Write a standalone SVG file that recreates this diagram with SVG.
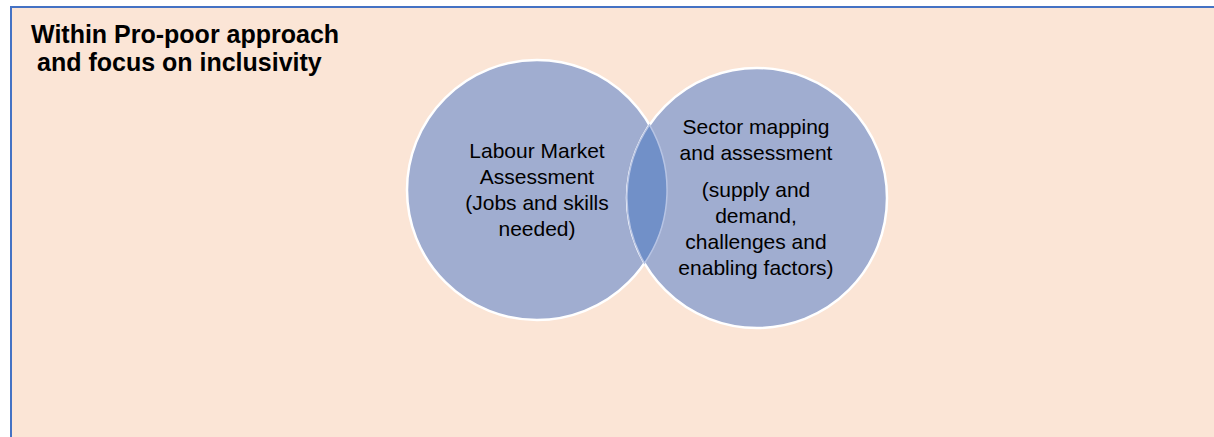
<svg xmlns="http://www.w3.org/2000/svg" width="1214" height="437" viewBox="0 0 1214 437">
  <style>
    .title { font-family: "Liberation Sans", Arial, sans-serif; font-weight: bold; font-size: 25px; fill: #000; }
    .label { font-family: "Liberation Sans", Arial, sans-serif; font-size: 21px; fill: #000; text-anchor: middle; }
    .ring { fill: #A0ADD0; stroke: #FFFFFF; stroke-width: 2.5; }
    .lens { fill: #7190C8; stroke: #B7C4E4; stroke-width: 1.5; }
  </style>

  <!-- page background -->
  <rect x="0" y="0" width="1214" height="437" fill="#FFFFFF"/>

  <!-- framing panel -->
  <g id="panel">
    <rect x="11" y="7" width="1230" height="460" fill="#FBE5D6" stroke="#4472C4" stroke-width="2"/>
    <text class="title" x="31" y="43">Within Pro-poor approach</text>
    <text class="title" x="37" y="71">and focus on inclusivity</text>
  </g>

  <!-- left set -->
  <g id="labour-market">
    <circle class="ring" cx="537" cy="190" r="130"/>
  </g>

  <!-- right set -->
  <g id="sector-mapping">
    <circle class="ring" cx="757" cy="198" r="130"/>
  </g>

  <!-- overlap of the two sets -->
  <g id="overlap">
    <path class="lens" d="M 649.5 124.8 A 130 130 0 0 1 644.5 263.2 A 130 130 0 0 1 649.5 124.8 Z"/>
  </g>

  <g id="labels">
    <text class="label" x="537" y="158">Labour Market</text>
    <text class="label" x="537" y="184">Assessment</text>
    <text class="label" x="537" y="210">(Jobs and skills</text>
    <text class="label" x="537" y="236">needed)</text>

    <text class="label" x="756" y="134">Sector mapping</text>
    <text class="label" x="756" y="160">and assessment</text>
    <text class="label" x="756" y="197">(supply and</text>
    <text class="label" x="756" y="223">demand,</text>
    <text class="label" x="756" y="249">challenges and</text>
    <text class="label" x="756" y="275">enabling factors)</text>
  </g>
</svg>
